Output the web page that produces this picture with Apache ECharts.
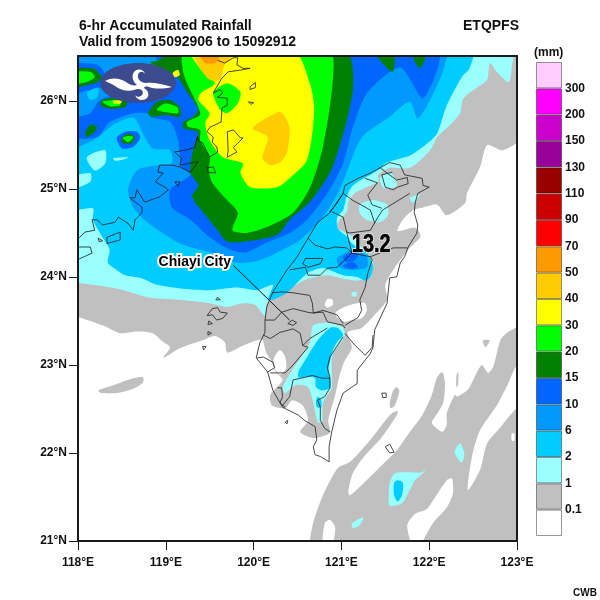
<!DOCTYPE html>
<html>
<head>
<meta charset="UTF-8">
<title>6-hr Accumulated Rainfall</title>
<script type="text/javascript" src="https://cdn.jsdelivr.net/npm/echarts@6/dist/echarts.min.js"></script>
<style>body{margin:0;background:#fff}</style>
</head>
<body>
<div id="main" style="width:600px;height:600px"></div>
<script type="text/javascript">
// axes
var lonTicks = [118,119,120,121,122,123];
var latTicks = [21,22,23,24,25,26];
// colour scale
var scaleLabels = ['0.1','1','2','6','10','15','20','30','40','50','70','90','110','130','150','200','300'];
var scaleColors = ['#ffffff','#c0c0c0','#99ffff','#00ccff','#0099ff','#0066ff','#008000','#00ff00','#ffff00','#ffcc00','#ff9900','#ff0000','#cc0000','#990000','#990099','#cc00cc','#ff00ff','#ffccff'];

// rainfall contours, lon/lat
var grayMain = [[117.9,26.6],[123.1,26.6],[123.1,25.63],[122.84,25.44],[122.66,25.50],[122.58,25.25],[122.43,24.95],[122.41,24.84],[122.20,24.70],[122.09,24.82],[121.93,24.79],[121.82,24.76],[121.70,24.65],[121.64,24.52],[121.84,24.56],[121.90,24.46],[121.76,24.31],[121.59,24.08],[121.50,23.91],[121.52,23.74],[121.38,23.57],[121.23,23.42],[121.07,23.37],[121.12,23.20],[121.03,23.03],[120.98,22.88],[120.93,22.66],[120.85,22.37],[120.87,22.23],[120.68,22.17],[120.53,22.24],[120.62,22.37],[120.56,22.54],[120.44,22.60],[120.36,22.51],[120.21,22.54],[120.19,22.66],[120.33,22.83],[120.25,22.92],[120.21,23.03],[120.14,23.15],[120.10,23.29],[120.04,23.28],[119.88,23.22],[119.70,23.14],[119.67,23.26],[119.56,23.33],[119.42,23.28],[119.16,23.19],[118.97,23.08],[119.05,23.20],[118.97,23.26],[118.85,23.36],[118.67,23.38],[118.48,23.36],[118.28,23.45],[118.02,23.54],[117.9,23.56]];
var graySE = [[120.67,20.9],[120.67,21.17],[120.79,21.52],[120.96,21.83],[121.10,21.90],[121.33,22.15],[121.55,22.43],[121.64,22.48],[121.63,22.43],[121.46,22.18],[121.25,21.95],[121.13,21.77],[121.08,21.58],[121.09,21.52],[121.15,21.56],[121.41,21.81],[121.63,22.03],[121.78,22.24],[121.92,22.43],[122.03,22.66],[122.09,22.86],[122.15,22.92],[122.18,22.79],[122.16,22.57],[122.10,22.46],[122.03,22.34],[122.15,22.24],[122.20,22.32],[122.20,22.45],[122.29,22.66],[122.32,22.64],[122.44,22.72],[122.54,22.91],[122.60,23.00],[122.67,22.91],[122.73,22.98],[122.81,23.28],[122.89,23.37],[123.09,23.45],[123.09,23.0],[123.0,23.0],[122.89,22.77],[122.77,22.54],[122.58,22.26],[122.49,21.97],[122.44,21.58],[122.58,21.81],[122.66,22.11],[122.81,22.29],[123.0,22.51],[123.09,22.51],[123.09,20.9]];
var grayStrip = [[121.63,22.75],[121.66,22.71],[121.61,22.54],[121.56,22.51],[121.55,22.57],[121.59,22.71]];
var grayThin = [[122.31,22.88],[122.33,22.92],[122.33,22.77],[122.31,22.75]];
var grayTip = [[122.61,23.28],[122.69,23.28],[122.64,23.20]];
var graySliver = [[118.23,22.71],[118.40,22.77],[118.63,22.85],[118.74,22.86],[118.74,22.80],[118.63,22.73],[118.44,22.68],[118.27,22.68]];
var whiteTaiwan = [[120.23,23.07],[120.30,23.17],[120.36,23.09],[120.37,22.96],[120.30,22.89],[120.25,22.94]];
var whiteMid = [[120.93,23.59],[121.04,23.66],[121.18,23.70],[121.27,23.70],[121.29,23.62],[121.23,23.53],[121.12,23.51],[121.04,23.49],[120.96,23.53]];
var whiteSmall = [[120.81,23.68],[120.84,23.75],[120.90,23.74],[120.90,23.68],[120.84,23.65]];
var whiteSeA = [[121.75,21.18],[121.84,21.31],[121.95,21.35],[121.99,21.38],[122.20,21.69],[122.26,21.71],[122.27,21.54],[122.20,21.38],[122.04,21.20],[121.89,20.95],[121.81,20.95]];
var whiteSeB = [[120.79,20.95],[120.81,21.2],[120.87,21.24],[120.93,21.15],[120.89,20.95]];
var whiteSeC = [[122.94,22.22],[122.97,22.22],[122.97,22.14],[122.94,22.14]];

var lightMain = [[117.9,26.6],[122.92,26.58],[122.93,26.29],[122.90,26.21],[122.77,26.33],[122.69,26.43],[122.66,26.24],[122.54,26.15],[122.43,26.07],[122.38,26.01],[122.35,25.86],[122.24,25.73],[122.09,25.59],[122.01,25.44],[121.78,25.24],[121.55,25.24],[121.42,25.16],[121.42,25.08],[121.27,25.01],[121.15,24.95],[121.08,24.85],[121.06,24.74],[120.96,24.62],[120.96,24.55],[121.06,24.50],[121.13,24.45],[121.36,24.17],[121.35,24.08],[121.33,24.0],[121.18,23.96],[121.02,23.98],[120.84,24.02],[120.62,23.98],[120.41,23.87],[120.16,23.71],[120.13,23.56],[120.11,23.57],[120.02,23.68],[119.88,23.70],[119.70,23.66],[119.50,23.70],[119.16,23.74],[118.79,23.77],[118.48,23.86],[118.02,23.93],[117.9,23.93]];
var lightA = [[121.21,24.82],[121.36,24.87],[121.52,24.82],[121.53,24.70],[121.44,24.62],[121.29,24.65],[121.21,24.72]];
var lightB = [[121.44,25.12],[121.55,25.19],[121.61,25.12],[121.63,25.04],[121.55,25.01],[121.47,25.02]];
var lightC = [[121.78,24.90],[121.89,24.93],[121.82,24.84]];
var lightD = [[121.12,23.82],[121.17,23.83],[121.17,23.78],[121.12,23.78]];
var lightSouth = [[120.68,23.45],[120.87,23.48],[121.01,23.43],[121.04,23.36],[121.01,23.28],[120.90,23.11],[120.89,22.94],[120.89,22.74],[120.79,22.57],[120.78,22.35],[120.73,22.35],[120.68,22.57],[120.62,22.75],[120.47,22.77],[120.36,22.68],[120.33,22.74],[120.45,22.96],[120.64,23.25]];
var lightSE = [[121.55,21.66],[121.61,21.77],[121.78,21.78],[121.92,21.78],[121.97,21.84],[121.93,21.77],[121.84,21.69],[121.76,21.54],[121.69,21.43],[121.55,21.40],[121.54,21.50]];
var lightE = [[122.29,22.01],[122.35,22.11],[122.40,22.0],[122.38,21.90],[122.35,21.90]];
var lightS = [[121.12,21.20],[121.25,21.27],[121.21,21.18],[121.13,21.15]];
var lightIsle1 = [[118.10,25.36],[118.31,25.44],[118.31,25.29],[118.19,25.21]];
var lightIsle2 = [[118.40,25.35],[118.57,25.36],[118.51,25.33],[118.42,25.32]];
var lightIsle3 = [[117.9,25.12],[118.14,25.18],[118.14,25.08],[117.9,24.99]];

var cyanMain = [[117.9,26.6],[122.49,26.58],[122.46,26.37],[122.37,26.27],[122.20,25.95],[122.09,25.63],[121.98,25.52],[121.78,25.38],[121.52,25.30],[121.41,25.21],[121.13,25.04],[121.06,24.91],[121.02,24.76],[120.95,24.67],[120.96,24.55],[121.07,24.45],[121.12,24.38],[121.29,24.27],[121.36,24.13],[121.33,24.0],[121.27,23.96],[121.18,24.0],[121.02,24.02],[120.79,24.10],[120.61,24.04],[120.38,23.82],[120.22,23.74],[120.16,23.74],[120.22,23.91],[120.04,23.85],[119.81,23.88],[119.50,23.85],[119.16,23.87],[118.90,23.91],[118.71,23.99],[118.54,24.02],[118.44,24.08],[118.34,24.16],[118.36,24.31],[118.28,24.45],[118.17,24.65],[118.17,24.78],[117.9,24.78]];
var cyanSouth = [[120.87,23.42],[120.96,23.42],[121.02,23.34],[120.95,23.26],[120.89,23.13],[120.85,22.92],[120.87,22.85],[120.87,22.74],[120.78,22.71],[120.71,22.75],[120.70,22.85],[120.61,22.87],[120.51,22.86],[120.51,22.92],[120.61,23.09],[120.73,23.28]];
var cyanSmall = [[120.71,22.58],[120.73,22.64],[120.77,22.60],[120.77,22.52],[120.72,22.52]];
var cyanSE = [[121.60,21.66],[121.64,21.69],[121.70,21.66],[121.69,21.52],[121.64,21.45],[121.60,21.52]];
var cyanPatch = [[118.10,26.09],[118.23,26.15],[118.22,26.04],[118.14,26.01]];

var midMain = [[117.9,26.6],[122.18,26.58],[122.16,26.35],[122.01,26.01],[121.87,25.80],[121.78,25.99],[121.55,25.82],[121.23,25.58],[120.98,24.99],[120.79,24.68],[120.53,24.42],[120.33,24.31],[120.07,24.19],[119.81,24.16],[119.54,24.27],[119.16,24.38],[118.79,24.62],[118.63,24.79],[118.57,24.99],[118.67,25.21],[118.90,25.27],[119.07,25.29],[119.05,25.44],[118.85,25.46],[118.76,25.59],[118.63,25.81],[118.40,25.73],[118.22,25.58],[118.01,25.48],[117.9,25.48]];
var midTaiwan = [[120.95,24.21],[121.06,24.28],[121.18,24.31],[121.29,24.23],[121.29,24.11],[121.13,24.08],[120.98,24.11]];

var deepMain = [[118.79,25.86],[118.63,25.86],[118.36,25.76],[118.22,25.59],[117.9,25.59],[117.9,25.78],[118.14,25.86],[118.25,26.01],[118.59,26.12],[118.93,26.35],[118.88,26.58],[122.09,26.58],[121.93,26.03],[121.67,26.38],[121.30,26.10],[121.13,25.70],[121.02,25.29],[120.84,24.95],[120.61,24.65],[120.41,24.50],[120.15,24.39],[119.92,24.28],[119.73,24.31],[119.50,24.45],[119.28,24.65],[119.07,24.79],[119.05,24.99],[119.28,25.16],[119.18,25.25],[119.16,25.41],[119.13,25.59],[119.05,25.76],[118.84,25.81]];
var deepLeft = [[117.9,26.41],[118.22,26.41],[118.31,26.29],[118.25,26.15],[118.10,26.12],[117.9,26.07]];
var deepRing = [[118.44,25.58],[118.54,25.65],[118.67,25.65],[118.71,25.58],[118.63,25.48],[118.50,25.46]];
var deepTaiwanA = [[121.02,24.23],[121.12,24.28],[121.19,24.25],[121.15,24.19],[121.06,24.17]];
var deepTaiwanB = [[121.02,24.13],[121.13,24.17],[121.19,24.11],[121.10,24.09]];

var darkMain = [[119.14,26.58],[121.04,26.58],[121.13,26.12],[120.90,25.25],[120.64,24.85],[120.41,24.65],[120.27,24.48],[119.88,24.40],[119.70,24.40],[119.59,24.53],[119.47,24.68],[119.30,24.91],[119.37,25.04],[119.28,25.18],[119.28,25.27],[119.31,25.44],[119.36,25.58],[119.36,25.65],[119.20,25.69],[119.20,25.76],[119.31,25.82],[119.37,25.90],[119.25,26.09],[119.13,26.27],[118.99,26.35],[118.82,26.44],[118.91,26.46]];
var darkV1 = [[121.36,26.58],[121.58,26.33],[121.59,26.58]];
var darkV2 = [[121.80,26.58],[121.89,26.37],[121.98,26.58]];
var darkLeft = [[117.9,26.35],[118.17,26.37],[118.27,26.27],[118.22,26.21],[118.10,26.18],[117.9,26.15]];
var darkUnder = [[118.25,25.99],[118.36,26.03],[118.56,25.99],[118.54,25.93],[118.40,25.91],[118.28,25.93]];
var darkMid = [[118.80,25.86],[118.90,25.99],[119.05,26.01],[119.16,25.93],[119.16,25.82],[119.01,25.84],[118.84,25.82]];
var darkSmall = [[118.08,25.63],[118.14,25.73],[118.22,25.70],[118.17,25.63],[118.10,25.59]];
var darkRing = [[118.50,25.58],[118.57,25.63],[118.65,25.59],[118.61,25.52],[118.51,25.52]];

var greenMain = [[119.21,26.58],[119.20,26.32],[119.28,26.12],[119.37,25.93],[119.39,25.84],[119.24,25.76],[119.25,25.71],[119.39,25.67],[119.39,25.55],[119.50,25.36],[119.49,25.21],[119.53,25.07],[119.70,24.87],[119.82,24.73],[119.76,24.53],[119.92,24.50],[120.16,24.57],[120.45,24.73],[120.64,25.01],[120.79,25.48],[120.90,26.21],[120.86,26.58]];
var greenLeft = [[117.9,26.32],[118.14,26.33],[118.19,26.27],[118.08,26.21],[117.9,26.20]];
var greenUnder = [[118.28,25.99],[118.48,26.01],[118.48,25.95],[118.36,25.94]];
var greenMid = [[118.90,25.90],[118.99,25.97],[119.13,25.93],[119.14,25.86],[119.01,25.87]];
var greenRing = [[118.51,25.58],[118.57,25.60],[118.63,25.59],[118.57,25.53]];
var greenBubble = [[119.54,26.09],[119.70,26.20],[119.85,26.10],[119.82,25.97],[119.70,25.86],[119.62,25.90]];

var yellowMain = [[119.28,26.58],[119.42,26.33],[119.56,26.20],[119.40,26.09],[119.37,26.01],[119.50,25.86],[119.45,25.75],[119.50,25.55],[119.65,25.36],[119.88,25.29],[119.85,25.18],[119.96,25.02],[120.27,25.02],[120.41,25.12],[120.61,25.33],[120.69,25.90],[120.64,26.20],[120.45,26.58]];
var yellowUnder = [[118.40,26.0],[118.50,26.0],[118.48,25.97],[118.41,25.97]];
var yellowDot = [[119.08,26.32],[119.14,26.35],[119.16,26.29],[119.10,26.27]];
var goldTop = [[119.31,26.58],[119.39,26.37],[119.50,26.24],[119.62,26.24],[119.67,26.41],[119.81,26.58]];
var goldBig = [[119.99,25.69],[120.27,25.87],[120.33,25.86],[120.41,25.70],[120.38,25.41],[120.30,25.30],[120.19,25.27],[120.10,25.35],[120.16,25.59]];
var orangeTop = [[119.36,26.58],[119.45,26.43],[119.58,26.44],[119.62,26.58]];

// coast lines and boundaries, lon/lat
var chinaCoast = [[119.59,26.46],[119.67,26.43],[119.77,26.49],[119.82,26.49],[119.81,26.41],[119.88,26.37],[119.96,26.37],[119.85,26.35],[119.71,26.33],[119.64,26.26],[119.54,26.09],[119.62,26.13],[119.65,26.09],[119.59,26.04],[119.70,26.03],[119.70,25.95],[119.64,25.92],[119.63,25.76],[119.50,25.70],[119.47,25.65],[119.54,25.59],[119.53,25.53],[119.58,25.48],[119.59,25.42],[119.50,25.36],[119.42,25.52],[119.37,25.55],[119.36,25.60],[119.33,25.47],[119.22,25.44],[119.10,25.42],[119.18,25.35],[119.16,25.27],[119.37,25.31],[119.28,25.19],[119.16,25.25],[119.07,25.27],[118.93,25.27],[118.91,25.19],[118.97,25.18],[118.88,25.08],[118.99,25.02],[119.03,24.99],[118.93,24.91],[118.76,24.85],[118.67,24.99],[118.65,24.90],[118.59,24.90],[118.73,24.79],[118.73,24.73],[118.65,24.65],[118.63,24.53],[118.57,24.61],[118.50,24.65],[118.46,24.68],[118.42,24.62],[118.28,24.59],[118.22,24.65],[118.16,24.65],[118.19,24.53],[118.08,24.51],[118.02,24.45],[117.98,24.44]];
var chinaCoast2 = [[117.98,24.34],[118.14,24.34],[118.16,24.27],[117.98,24.19]];
var countyA = [[120.13,23.51],[120.24,23.51],[120.32,23.60],[120.45,23.64],[120.61,23.60],[120.67,23.59],[120.79,23.60],[120.84,23.49],[121.02,23.45],[121.04,23.42]];
var countyB = [[120.11,23.34],[120.19,23.30],[120.30,23.37],[120.45,23.41],[120.53,23.36],[120.56,23.22],[120.64,23.30],[120.84,23.42]];
var countyC = [[120.21,23.82],[120.33,23.83],[120.45,23.82],[120.64,23.79],[120.67,23.70],[120.68,23.59]];
var countyD = [[120.62,24.44],[120.70,24.36],[120.84,24.32],[120.93,24.34],[121.06,24.33],[121.12,24.27],[120.95,24.11],[120.84,24.10],[120.76,24.02],[120.62,24.02],[120.59,24.11],[120.41,24.08]];
var countyE = [[121.12,24.27],[121.33,24.23],[121.35,24.19],[121.30,24.04],[121.27,23.88],[121.21,23.74],[121.23,23.62],[121.19,23.54],[121.04,23.45]];
var countyF = [[120.68,23.59],[120.79,23.62],[120.95,23.57],[121.02,23.47]];
var countyI = [[121.33,24.23],[121.59,24.33],[121.75,24.33]];
var countyJ = [[121.06,24.51],[121.10,24.50],[121.33,24.53],[121.41,24.67],[121.47,24.76],[121.78,24.95]];
var countyJ2 = [[120.87,24.74],[120.95,24.84],[121.02,24.95]];
var countyJ3 = [[121.02,24.95],[121.13,24.87],[121.33,24.76],[121.38,24.61]];
var countyJ4 = [[121.27,25.12],[121.41,25.07],[121.30,24.93],[121.35,24.82],[121.46,24.78]];
var countyJ5 = [[120.89,24.74],[121.02,24.68],[121.06,24.51],[121.12,24.27]];
var countyK = [[121.44,25.24],[121.63,25.10],[121.75,25.13],[121.76,25.06],[121.64,25.02],[121.59,24.99],[121.50,25.02],[121.46,25.16],[121.58,25.19]];
var countyM = [[120.45,22.83],[120.67,22.88],[120.78,22.85],[120.87,22.85],[120.84,22.97],[120.87,23.09],[121.02,23.32]];
var countyN = [[120.45,22.83],[120.41,22.64],[120.33,22.54]];
var countyO = [[120.76,22.52],[120.73,22.60],[120.81,22.64],[120.87,22.74],[120.87,22.85]];
var countyP = [[120.76,22.52],[120.76,22.37],[120.81,22.28],[120.87,22.24]];
var countyQ = [[120.19,22.91],[120.36,22.91],[120.45,23.0],[120.62,23.20],[120.56,23.22]];
var countyR = [[120.04,23.08],[120.11,23.09],[120.22,23.03],[120.24,22.97],[120.16,22.92]];
var countyS = [[121.04,23.36],[121.13,23.25],[121.27,23.11],[121.35,23.20],[121.36,23.34]];
var countyT = [[120.27,22.74],[120.32,22.74],[120.33,22.64],[120.30,22.57],[120.36,22.52]];

var taiwanCoast = [[121.44,25.24],[121.55,25.30],[121.67,25.27],[121.72,25.16],[121.92,25.12],[121.93,25.04],[122.0,25.02],[121.87,24.95],[121.84,24.84],[121.83,24.73],[121.87,24.59],[121.86,24.50],[121.76,24.34],[121.72,24.23],[121.67,24.16],[121.63,24.0],[121.55,23.99],[121.52,23.70],[121.38,23.40],[121.36,23.20],[121.33,23.13],[121.18,22.94],[121.18,22.79],[121.02,22.68],[120.95,22.49],[120.89,22.24],[120.86,22.07],[120.86,21.90],[120.76,21.96],[120.70,21.98],[120.68,22.07],[120.72,22.15],[120.70,22.30],[120.58,22.37],[120.51,22.43],[120.33,22.52],[120.22,22.71],[120.16,22.92],[120.03,23.08],[120.07,23.25],[120.13,23.37],[120.13,23.51],[120.15,23.66],[120.22,23.83],[120.38,24.08],[120.49,24.22],[120.62,24.44],[120.73,24.62],[120.87,24.73],[121.02,24.95],[121.04,25.04],[121.19,25.12],[121.33,25.18]];
var chiayiCity = [[120.39,23.47],[120.44,23.51],[120.49,23.48],[120.45,23.45]];
var lakeH = [[120.59,24.21],[120.72,24.21],[120.79,24.21],[120.76,24.15],[120.62,24.11],[120.56,24.15]];
var isleKinmen = [[118.33,24.45],[118.48,24.51],[118.48,24.42],[118.33,24.38]];
var isleK2 = [[118.23,24.44],[118.28,24.41],[118.24,24.40]];
var isleA = [[119.47,25.24],[119.54,25.25],[119.57,25.18],[119.48,25.19]];
var isleB = [[119.10,25.08],[119.16,25.08],[119.14,25.03]];
var isleMatsu = [[119.70,25.65],[119.77,25.67],[119.85,25.58],[119.88,25.58],[119.82,25.52],[119.77,25.47],[119.81,25.42],[119.70,25.36],[119.71,25.44]];
var isleC = [[119.96,26.16],[120.02,26.21],[120.02,26.15],[119.96,26.13]];
var isleD = [[119.94,25.99],[120.0,25.98],[119.97,25.96]];
var penghu = [[119.47,23.56],[119.53,23.64],[119.59,23.65],[119.62,23.60],[119.70,23.59],[119.65,23.53],[119.58,23.51],[119.53,23.57]];
var penghuA = [[119.59,23.77],[119.62,23.74],[119.57,23.74]];
var penghuB = [[119.49,23.50],[119.53,23.47],[119.48,23.46]];
var penghuC = [[119.48,23.38],[119.52,23.36],[119.48,23.34]];
var penghuD = [[119.42,23.21],[119.46,23.21],[119.43,23.17]];
var greenIsland = [[121.46,22.68],[121.51,22.68],[121.51,22.63],[121.47,22.63]];
var lanyu = [[121.50,22.07],[121.55,22.10],[121.60,22.01],[121.55,22.0]];
var liuqiu = [[120.36,22.35],[120.39,22.37],[120.38,22.33]];

// annotations
var leaderLine = [[119.77,24.13],[120.41,23.51]];
var chiayiLabel = ['Chiayi City', 119.33, 24.17];
var maxLabel = ['13.2', 121.34, 24.36];

// painted bottom to top
var fillLayers = [
	['#c0c0c0', [grayMain, graySE, grayStrip, grayThin, grayTip, graySliver]],
	['#ffffff', [whiteTaiwan, whiteMid, whiteSmall, whiteSeA, whiteSeB, whiteSeC]],
	['#99ffff', [lightMain, lightA, lightB, lightC, lightD, lightSouth, lightSE, lightE, lightS]],
	['#00ccff', [cyanMain, cyanSouth, cyanSmall, cyanSE]],
	['#99ffff', [lightIsle1, lightIsle2, lightIsle3]],
	['#0099ff', [midMain, midTaiwan]],
	['#0066ff', [deepMain, deepLeft, deepRing, deepTaiwanA, deepTaiwanB]],
	['#00ccff', [cyanPatch]],
	['#008000', [darkMain, darkV1, darkV2, darkLeft, darkUnder, darkMid, darkSmall, darkRing]],
	['#00ff00', [greenMain, greenLeft, greenUnder, greenMid, greenRing]],
	['#ffff00', [yellowMain, yellowUnder, yellowDot]],
	['#00ff00', [greenBubble]],
	['#ffcc00', [goldTop, goldBig]],
	['#ff9900', [orangeTop]]
];
var fills = [];
fillLayers.forEach(function(layer){
	layer[1].forEach(function(shape){ fills.push({color:layer[0], points:shape}); });
});

var openLines = [chinaCoast, chinaCoast2, countyA, countyB, countyC, countyD, countyE, countyF, countyI, countyJ, countyJ2, countyJ3, countyJ4, countyJ5, countyK, countyM, countyN, countyO, countyP, countyQ, countyR, countyS, countyT];
var closedLines = [taiwanCoast, chiayiCity, lakeH, isleKinmen, isleK2, isleA, isleB, isleMatsu, isleC, isleD, penghu, penghuA, penghuB, penghuC, penghuD, greenIsland, lanyu, liuqiu];

function toPixels(api, pts){
	return pts.map(function(p){ return api.coord(p); });
}

var myChart = echarts.init(document.getElementById('main'));
var boldFont = 'Liberation Sans';
var frameLine = {show:true, onZero:false, lineStyle:{color:'#1a1a1a', width:2}};
var logoPath = 'M105 81 C112 77 120 78 126 82 C130 85 134 86 137 85 C133 82 131 76 134 72 C137 68 144 69 145 74 C143 71 139 71 138 75 C137 79 141 83 146 83 C153 82 162 84 172 87 C163 89 155 89 149 87 C146 86 144 87 144 88 C148 90 150 95 147 98 C144 101 137 101 135 95 C137 98 142 97 143 93 C143 89 138 88 134 90 C128 92 120 90 115 86 C112 84 108 82 105 81 Z';

var series = [
	{
		type:'custom', xAxisIndex:0, yAxisIndex:0, clip:true, silent:true,
		data: fills.map(function(f,i){ return [i]; }),
		renderItem:function(params, api){
			var f = fills[api.value(0)];
			return {type:'polygon', shape:{points:toPixels(api, f.points), smooth:0.25}, style:{fill:f.color, stroke:null}};
		}
	},
	{
		type:'custom', xAxisIndex:0, yAxisIndex:0, clip:true, silent:true, z:3,
		data: openLines.concat(closedLines).map(function(l,i){ return [i]; }),
		renderItem:function(params, api){
			var i = api.value(0);
			var pts = openLines.concat(closedLines)[i];
			if(i >= openLines.length) pts = pts.concat([pts[0]]);
			return {type:'polyline', shape:{points:toPixels(api, pts)}, style:{fill:null, stroke:'#1c1c1c', lineWidth:0.8}};
		}
	},
	{
		type:'custom', xAxisIndex:0, yAxisIndex:0, clip:true, silent:true, z:4,
		data:[[0]],
		renderItem:function(params, api){
			return {type:'polyline', shape:{points:toPixels(api, leaderLine)}, style:{fill:null, stroke:'#111', lineWidth:1}};
		}
	},
	{
		// logo badge, fixed on the page
		type:'custom', xAxisIndex:0, yAxisIndex:0, silent:true, z:4,
		data:[[0]],
		renderItem:function(){
			return {type:'group', children:[
				{type:'ellipse', shape:{cx:138, cy:83, rx:38, ry:20}, style:{fill:'#3c4b8e'}},
				{type:'path', shape:{pathData:logoPath}, style:{fill:'#fff'}}
			]};
		}
	},
	{
		type:'custom', xAxisIndex:0, yAxisIndex:0, silent:true, z:5,
		data:[[0],[1]],
		renderItem:function(params, api){
			var isMax = api.value(0) == 1;
			var src = isMax ? maxLabel : chiayiLabel;
			var pos = api.coord([src[1], src[2]]);
			var font = 'bold ' + (isMax ? 25 : 14) + 'px "' + boldFont + '"';
			var sx = isMax ? 0.8 : 1;
			return {type:'group', children:[
				{type:'text', x:pos[0], y:pos[1], scaleX:sx, style:{text:src[0], textAlign:'center', textVerticalAlign:'middle', font:font, fill:'#fff', stroke:'#fff', lineWidth:isMax ? 2 : 4}},
				{type:'text', x:pos[0], y:pos[1], scaleX:sx, style:{text:src[0], textAlign:'center', textVerticalAlign:'middle', font:font, fill:'#000', stroke:'#000', lineWidth:isMax ? 0.6 : 0}}
			]};
		}
	}
];
// colour bar cells
scaleColors.forEach(function(c){
	series.push({
		type:'bar', xAxisIndex:2, yAxisIndex:2, stack:'scale', barWidth:'100%', silent:true,
		data:[1], itemStyle:{color:c, borderColor:'rgba(0,0,0,0.4)', borderWidth:1}
	});
});

var option = {
	animation:false,
	backgroundColor:'#fff',
	textStyle:{fontFamily:boldFont},
	title:[
		{text:'6-hr Accumulated Rainfall', left:79, top:19, padding:0, textStyle:{fontFamily:boldFont, fontSize:14, fontWeight:'bold', color:'#111'}},
		{text:'Valid from 15092906 to 15092912', left:79, top:35, padding:0, textStyle:{fontFamily:boldFont, fontSize:14, fontWeight:'bold', color:'#111'}},
		{text:'ETQPFS', left:463, top:19, padding:0, textStyle:{fontFamily:boldFont, fontSize:14, fontWeight:'bold', color:'#111'}},
		{text:'(mm)', left:534, top:47, padding:0, textStyle:{fontFamily:boldFont, fontSize:12, fontWeight:'bold', color:'#111'}},
		{text:'CWB', left:573, top:588, padding:0, textStyle:{fontFamily:boldFont, fontSize:10, fontWeight:'bold', color:'#111'}}
	],
	grid:[
		{left:78, top:56, width:439, height:485},
		{left:536, top:62, width:26, height:474}
	],
	xAxis:[
		{gridIndex:0, type:'value', min:118, max:123, interval:1, position:'bottom', z:10, axisLine:frameLine, splitLine:{show:false},
			axisTick:{show:true, length:9, lineStyle:{color:'#1a1a1a', width:1}},
			axisLabel:{margin:16, fontFamily:boldFont, fontSize:12, fontWeight:'bold', color:'#111', customValues:lonTicks, formatter:function(v){ return v + '°E'; }}},
		{gridIndex:0, type:'value', min:118, max:123, position:'top', z:10, axisLine:frameLine, axisTick:{show:false}, axisLabel:{show:false}, splitLine:{show:false}},
		{gridIndex:1, type:'category', data:['scale'], show:false}
	],
	yAxis:[
		{gridIndex:0, type:'value', min:21, max:26.51, position:'left', z:10, axisLine:frameLine, splitLine:{show:false},
			axisTick:{show:true, length:9, customValues:latTicks, lineStyle:{color:'#1a1a1a', width:1}},
			axisLabel:{margin:11, fontFamily:boldFont, fontSize:12, fontWeight:'bold', color:'#111', customValues:latTicks, formatter:function(v){ return v + '°N'; }}},
		{gridIndex:0, type:'value', min:21, max:26.51, position:'right', z:10, axisLine:frameLine, axisTick:{show:false}, axisLabel:{show:false}, splitLine:{show:false}},
		{gridIndex:1, type:'value', min:0, max:18, interval:1, position:'right', z:10, splitLine:{show:false}, axisTick:{show:false},
			axisLine:{show:false},
			axisLabel:{margin:3, fontFamily:boldFont, fontSize:12, fontWeight:'bold', color:'#111', showMinLabel:false, showMaxLabel:false,
				formatter:function(v){ return scaleLabels[v-1] || ''; }}}
	],
	series:series
};
myChart.setOption(option);
</script>
</body>
</html>
